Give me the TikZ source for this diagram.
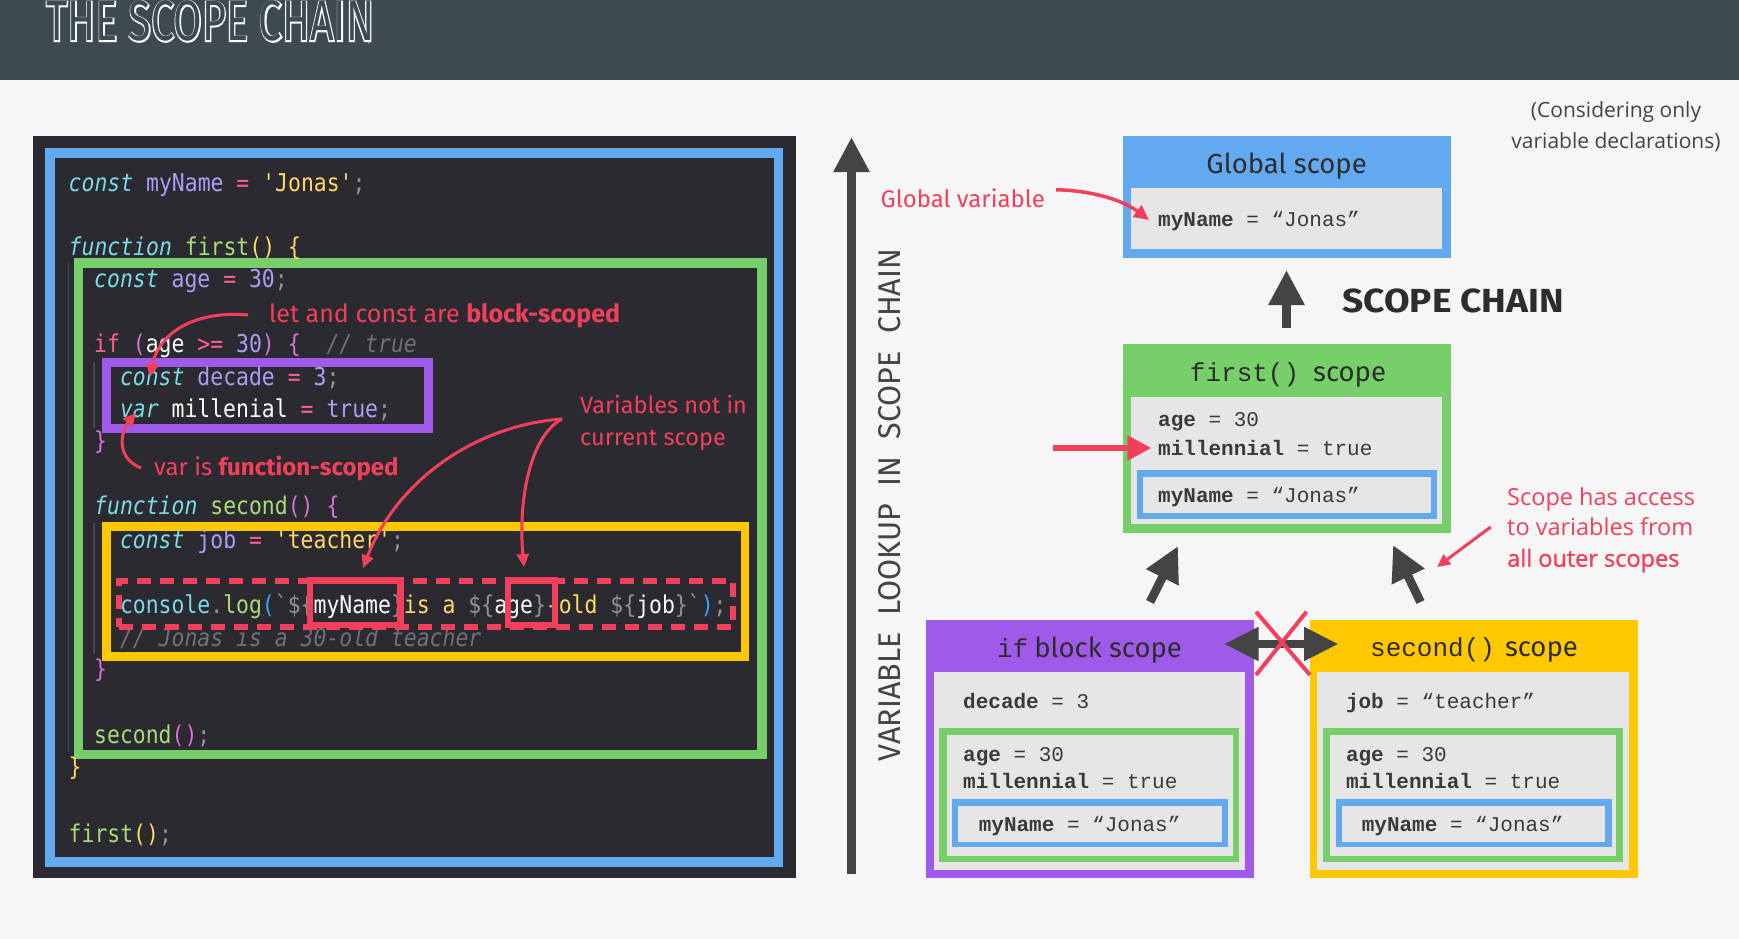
\documentclass[tikz,border=0pt]{standalone}
\usepackage{fontspec}
\usepackage{graphicx}
\usetikzlibrary{arrows.meta}

\setmainfont{Open Sans}
\newfontfamily\notefont{Open Sans}
\newfontfamily\semifont[FakeBold=1.2]{Open Sans}
\newfontfamily\condfont{Fira Sans}
\newfontfamily\titlefont[FakeStretch=0.7]{Fira Sans}
\newfontfamily\titlerim[FakeStretch=0.7,FakeBold=4]{Fira Sans}
\newfontfamily\codefont[FakeStretch=0.875,Ligatures=TeXOff]{DejaVu Sans Mono}
\newfontfamily\valfont[Ligatures=TeXOff]{Liberation Mono}
\newfontfamily\hdrmono[Ligatures=TeXOff]{Liberation Mono}

% palette
\definecolor{bgc}{HTML}{F6F6F6}
\definecolor{hdr}{HTML}{3E4A51}
\definecolor{panel}{HTML}{2B2A30}
\definecolor{jsblue}{HTML}{63A9EF}
\definecolor{jsgreen}{HTML}{77CF6A}
\definecolor{jspurple}{HTML}{A05AE9}
\definecolor{jsyellow}{HTML}{FFC800}
\definecolor{hot}{HTML}{F2405C}
\definecolor{panelgray}{HTML}{E6E6E6}
\definecolor{ink}{HTML}{444444}
\definecolor{headink}{HTML}{2D2D2D}
\definecolor{valink}{HTML}{3A3A3A}
\definecolor{guidec}{HTML}{48474E}
% syntax colours
\definecolor{ckw}{HTML}{78DCE8}
\definecolor{cvar}{HTML}{AB9DF2}
\definecolor{cop}{HTML}{FF6188}
\definecolor{cstr}{HTML}{FFD866}
\definecolor{cfn}{HTML}{A9DC76}
\definecolor{cpun}{HTML}{939293}
\definecolor{cbrm}{HTML}{DA70D6}
\definecolor{cbrb}{HTML}{2FA8FF}
\definecolor{ccom}{HTML}{727072}
\definecolor{cplain}{HTML}{FCFCFA}

\newcommand\jsK[1]{{\itshape\color{ckw}#1}}
\newcommand\jsV[1]{{\color{cvar}#1}}
\newcommand\jsO[1]{{\color{cop}#1}}
\newcommand\jsS[1]{{\color{cstr}#1}}
\newcommand\jsF[1]{{\color{cfn}#1}}
\newcommand\jsC[1]{{\color{ckw}#1}}
\newcommand\jsP[1]{{\color{cpun}#1}}
\newcommand\jsM[1]{{\color{cbrm}#1}}
\newcommand\jsB[1]{{\color{cbrb}#1}}
\newcommand\jsR[1]{{\itshape\color{ccom}#1}}
\newcommand\jsT[1]{{\color{cplain}#1}}

% rectangle node from its corners: name, options, x1, y1, x2, y2
\newcommand\platenode[6]{\node[plate,#2,minimum width={#5-#3},minimum height={#6-#4}] (#1) at ({(#3+#5)/2},{(#4+#6)/2}) {};}

\tikzset{
  plate/.style={rectangle,inner sep=0pt,outer sep=0pt},
  codeline/.style={anchor=base west,inner sep=0pt,font=\codefont\fontsize{24.5}{29}\selectfont},
  codenote/.style={anchor=base west,inner sep=0pt,text=hot,font=\condfont\fontsize{25}{29}\selectfont},
  valline/.style={anchor=base west,inner sep=0pt,text=valink,font=\valfont\fontsize{21}{25}\selectfont},
  scopehead/.style={anchor=base,inner sep=0pt,text=headink,font=\condfont\fontsize{27.5}{32}\selectfont},
  sidenote/.style={anchor=base west,inner sep=0pt,text=hot,font=\notefont\fontsize{23.5}{28}\selectfont},
  graynote/.style={anchor=base,inner sep=0pt,text=ink,font=\notefont\fontsize{21}{25}\selectfont},
  darkarrow/.style={draw=ink,line width=8.7pt,-{Triangle[length=35pt,width=34pt]}},
  hotarrow/.style={draw=hot,line width=3pt,-{Triangle[length=13pt,width=12pt]}},
  guide/.style={draw=guidec,line width=1.2pt},
  crossline/.style={draw=hot,line width=4pt},
  titletext/.style={anchor=base west,inner sep=0pt},
}

\begin{document}
\begin{tikzpicture}[x=1pt,y=-1pt]
\useasboundingbox (0,0) rectangle (1739,939);
\clip (0,0) rectangle (1739,939);

% page and title band
\fill[bgc] (0,0) rectangle (1739,939);
\fill[hdr] (0,0) rectangle (1739,80);
% outlined title: a white emboldened layer under a band-coloured layer
\node[titletext,text=white] (titlerim) at (46,41)
  {\resizebox{328pt}{40pt}{\titlerim\fontsize{58}{60}\selectfont THE SCOPE CHAIN}};
\node[titletext,text=hdr] (title) at (46,41)
  {\resizebox{328pt}{40pt}{\titlefont\fontsize{58}{60}\selectfont THE SCOPE CHAIN}};

% ---------------- code panel ----------------
\platenode{codepanel}{fill=panel}{32.5}{136}{796}{878}
\platenode{globframe}{fill=jsblue}{45}{148}{782.5}{867}
\platenode{globinner}{fill=panel}{54.5}{158}{774}{857}
\platenode{firstframe}{fill=jsgreen}{74}{258}{766.5}{759}
\platenode{firstinner}{fill=panel}{83}{268}{757}{750}
\platenode{ifframe}{fill=jspurple}{102}{358}{433}{433}
\platenode{ifinner}{fill=panel}{111}{367}{424}{424}
\platenode{secframe}{fill=jsyellow}{102}{522}{749}{661}
\platenode{secinner}{fill=panel}{111}{531}{740.5}{652}

% indent guides
\draw[guide] (68.5,262) -- (68.5,752);
\draw[guide] (94,362) -- (94,428);
\draw[guide] (94,523) -- (94,654);

\node[codeline] (c1) at (68.5,191) {\jsK{const} \jsV{myName} \jsO{=} \jsS{'Jonas'}\jsP{;}};
\node[codeline] (c2) at (68.5,255) {\jsK{function} \jsF{first}\jsS{() \{}};
\node[codeline] (c3) at (94,287) {\jsK{const} \jsV{age} \jsO{=} \jsV{30}\jsP{;}};
\node[codeline] (c4) at (94,352) {\jsO{if} \jsM{(}\jsT{age} \jsO{>=} \jsV{30}\jsM{)} \jsM{\{}\ \ \jsR{// true}};
\node[codeline] (c5) at (119.8,385) {\jsK{const} \jsV{decade} \jsO{=} \jsV{3}\jsP{;}};
\node[codeline] (c6) at (119.8,417) {\jsK{var} \jsT{millenial} \jsO{=} \jsV{true}\jsP{;}};
\node[codeline] (c7) at (94,449) {\jsM{\}}};
\node[codeline] (c8) at (94,514) {\jsK{function} \jsF{second}\jsM{() \{}};
\node[codeline] (c9) at (119.8,548) {\jsK{const} \jsV{job} \jsO{=} \jsS{'teacher'}\jsP{;}};
\node[codeline] (c10) at (119.8,613) {\jsC{console}\jsP{.}\jsF{log}\jsB{(}\jsP{`\$\{}\jsT{myName}\jsP{\}}\jsS{ is a }\jsP{\$\{}\jsT{age}\jsP{\}}\jsS{-old }\jsP{\$\{}\jsT{job}\jsP{\}`}\jsB{)}\jsP{;}};
\node[codeline] (c11) at (119.8,646) {\jsR{// Jonas is a 30-old teacher}};
\node[codeline] (c12) at (94,677) {\jsM{\}}};
\node[codeline] (c13) at (94,743) {\jsF{second}\jsM{()}\jsP{;}};
\node[codeline] (c14) at (68.5,775) {\jsS{\}}};
\node[codeline] (c15) at (68.5,842) {\jsF{first}\jsS{()}\jsP{;}};

% highlighted log line and the two outer-scope references
\platenode{logline}{draw=hot,line width=6pt,dash pattern=on 14pt off 9pt}{119}{581}{733}{627}
\platenode{refname}{draw=hot,line width=6.5pt}{309.75}{580.25}{400.25}{624.75}
\platenode{refage}{draw=hot,line width=6.5pt}{508}{580.25}{555}{624.75}

% annotations inside the code panel
\node[codenote] (lcnote) at (269,322) {let and const are \textbf{block-scoped}};
\node[codenote,font=\condfont\fontsize{24}{28}\selectfont] (varnote) at (154,475) {var is \textbf{function-scoped}};
\node[codenote,font=\condfont\fontsize{23.5}{28}\selectfont] (vnote1) at (580,413) {Variables not in};
\node[codenote,font=\condfont\fontsize{23.5}{28}\selectfont] (vnote2) at (580,445) {current scope};

\coordinate (lcfrom) at (248,315);
\coordinate (lcto) at (150,377);
\coordinate (varfrom) at (141,468);
\coordinate (varto) at (136,413);
\coordinate (vapex) at (562,419);
\coordinate (vname) at (363,568);
\coordinate (vage) at (524,567);
\draw[hotarrow] (lcfrom) .. controls (192,310) and (158,335) .. (lcto);
\draw[hotarrow] (varfrom) .. controls (112,456) and (124,427) .. (varto);
\draw[hotarrow] (vapex) .. controls (478,425) and (398,478) .. (vname);
\draw[hotarrow] (vapex) .. controls (530,436) and (518,500) .. (vage);

% ---------------- scope chain ----------------
\coordinate (lookbot) at (851.5,874);
\coordinate (looktop) at (851.5,137);
\draw[darkarrow] (lookbot) -- (looktop);
\node[rotate=90,anchor=base,inner sep=0pt,text=ink] (lookuplabel) at (900,505)
  {\resizebox{512pt}{22pt}{\condfont\fontsize{32}{36}\selectfont VARIABLE\hspace{.3em} LOOKUP\hspace{.3em} IN\hspace{.3em} SCOPE\hspace{.3em} CHAIN}};

\node[graynote] (cons1) at (1616,117.3) {(Considering only};
\node[graynote] (cons2) at (1616,148.3) {variable declarations)};

% global scope
\platenode{gsc}{fill=jsblue}{1122.7}{136}{1451}{257.7}
\platenode{gscin}{fill=panelgray}{1131}{188}{1442}{249}
\node[scopehead] (gscT) at (1286.6,173) {Global scope};
\node[valline] (gv1) at (1158,226) {\textbf{myName} = “Jonas”};

% first() scope
\platenode{fsc}{fill=jsgreen}{1122.7}{344}{1451}{533}
\platenode{fscin}{fill=panelgray}{1131}{396.7}{1442}{524}
\platenode{fscblue}{fill=jsblue}{1137}{470}{1437}{519}
\platenode{fscbluein}{fill=panelgray}{1143}{476.5}{1430.5}{512.7}
\node[scopehead] (fscT) at (1288,381.7) {{\hdrmono\fontsize{26}{30}\selectfont first()}\hspace{14pt}scope};
\node[valline] (fv1) at (1158,426.7) {\textbf{age} = 30};
\node[valline] (fv2) at (1158,455) {\textbf{millennial} = true};
\node[valline] (fv3) at (1158,502.7) {\textbf{myName} = “Jonas”};

% if block scope
\platenode{isc}{fill=jspurple}{925.5}{620}{1253.6}{878}
\platenode{iscin}{fill=panelgray}{934}{671.7}{1244.7}{870}
\platenode{iscgreen}{fill=jsgreen}{939}{728}{1239}{861.7}
\platenode{iscgreenin}{fill=panelgray}{946.6}{734.5}{1232.5}{856}
\platenode{iscblue}{fill=jsblue}{951.5}{799}{1227.5}{847.3}
\platenode{iscbluein}{fill=panelgray}{958}{805.7}{1221.6}{841.7}
\node[scopehead] (iscT) at (1089.5,657) {{\hdrmono\fontsize{26}{30}\selectfont if}\hspace{6pt}block scope};
\node[valline] (iv1) at (963,708) {\textbf{decade} = 3};
\node[valline] (iv2) at (963,761.7) {\textbf{age} = 30};
\node[valline] (iv3) at (963,788) {\textbf{millennial} = true};
\node[valline] (iv4) at (978.6,831.7) {\textbf{myName} = “Jonas”};

% second() scope
\platenode{ssc}{fill=jsyellow}{1310}{620}{1637.5}{878}
\platenode{sscin}{fill=panelgray}{1317}{671.7}{1628.6}{870}
\platenode{sscgreen}{fill=jsgreen}{1323}{728}{1623}{861.7}
\platenode{sscgreenin}{fill=panelgray}{1330}{734.5}{1616}{856}
\platenode{sscblue}{fill=jsblue}{1335.6}{799}{1611.5}{847.3}
\platenode{sscbluein}{fill=panelgray}{1342}{805.7}{1605}{841.7}
\node[scopehead] (sscT) at (1474,656.7) {{\hdrmono\fontsize{26}{30}\selectfont second()}\hspace{10pt}scope};
\node[valline] (sv1) at (1345.8,708) {\textbf{job} = “teacher”};
\node[valline] (sv2) at (1345.8,761.7) {\textbf{age} = 30};
\node[valline] (sv3) at (1345.8,788) {\textbf{millennial} = true};
\node[valline] (sv4) at (1361.6,831.7) {\textbf{myName} = “Jonas”};

% chain arrows
\coordinate (chainfrom) at (1286.5,328);
\coordinate (chainto) at (1286.5,270);
\draw[darkarrow] (chainfrom) -- (chainto);
\node[anchor=base west,inner sep=0pt,text=headink] (chainlabel) at (1342,312.7)
  {\resizebox{221.6pt}{23.7pt}{\condfont\bfseries\fontsize{34}{38}\selectfont SCOPE CHAIN}};

\coordinate (ifup) at (1150,602);
\coordinate (ifupto) at (1178,546);
\coordinate (secup) at (1420.5,602);
\coordinate (secupto) at (1393,545);
\draw[darkarrow] (ifup) -- (ifupto);
\draw[darkarrow] (secup) -- (secupto);

\coordinate (sideL) at (1224,644);
\coordinate (sideR) at (1338.5,644);
\draw[draw=ink,line width=8pt,{Triangle[length=34.5pt,width=32pt]}-{Triangle[length=34.5pt,width=32pt]}] (sideL) -- (sideR);
\coordinate (xa) at (1256,611.7);
\coordinate (xb) at (1310,675);
\coordinate (xc) at (1306.5,611.7);
\coordinate (xd) at (1256,675);
\draw[crossline] (xa) -- (xb);
\draw[crossline] (xc) -- (xd);

% red callouts on the right
\node[anchor=base west,inner sep=0pt,text=hot,font=\condfont\fontsize{24}{28}\selectfont] (gvar) at (880.5,207) {Global variable};
\coordinate (gvarto) at (1149,220);
\draw[hotarrow,line width=3.5pt,-{Triangle[length=15pt,width=14pt]}] ([xshift=11pt,yshift=8pt]gvar.east) .. controls (1085,190) and (1120,198) .. (gvarto);

\coordinate (milfrom) at (1052.7,448);
\coordinate (milto) at (1151.4,448);
\draw[draw=hot,line width=5.7pt,-{Triangle[length=24pt,width=24pt]}] (milfrom) -- (milto);

\node[sidenote] (acc1) at (1507,505) {Scope has access};
\node[sidenote] (acc2) at (1507,535) {to variables from};
\node[sidenote,font=\semifont\fontsize{23.5}{28}\selectfont] (acc3) at (1507,566.7) {all outer scopes};
\coordinate (accfrom) at (1490.7,527);
\coordinate (accto) at (1437,567);
\draw[hotarrow] (accfrom) -- (accto);

\end{tikzpicture}
\end{document}
